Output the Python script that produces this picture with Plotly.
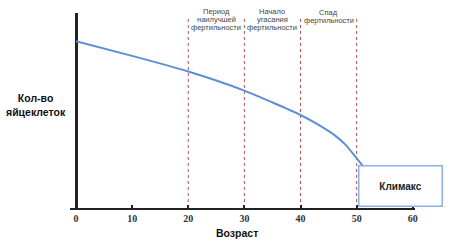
import plotly.graph_objects as go

# ---- data ----
ages = [0, 10, 20, 30, 40, 43, 46, 48, 50, 52]
eggs = [85.5, 78, 70, 60.2, 47.7, 43.0, 37.5, 32.5, 25.5, 18.5]
x_ticks = [0, 10, 20, 30, 40, 50, 60]
period_bounds = [20, 30, 40, 50]
period_labels = [["Период", "наилучшей", "фертильности"],
                 ["Начало", "угасания", "фертильности"],
                 ["Спад", "фертильности"]]
period_label_top_px = [11, 11, 12.5]
y_title = "Кол-во<br>яйцеклеток"
x_title = "Возраст"
box_text = "Климакс"

PLOT_TOP, PLOT_H = 13, 195

fig = go.Figure()
fig.add_trace(go.Scatter(x=ages, y=eggs, mode="lines",
                         line=dict(color="#5b8fd6", width=2, shape="spline", smoothing=0.6),
                         hoverinfo="skip", showlegend=False))

for b in period_bounds:
    fig.add_shape(type="line", xref="x", yref="paper", x0=b, x1=b, y0=0, y1=0.975,
                  line=dict(color="#b85450", width=1, dash="dot"), layer="below")

for i, lines in enumerate(period_labels):
    for j, ln in enumerate(lines):
        py = period_label_top_px[i] + 8.2 * j
        fig.add_annotation(x=(period_bounds[i] + period_bounds[i + 1]) / 2, xref="x",
                           xanchor="center",
                           y=(PLOT_TOP + PLOT_H - py) / PLOT_H, yref="paper", yanchor="middle",
                           showarrow=False, text=ln,
                           font=dict(family="Liberation Sans, Arial", size=7.5, color="#444"))

fig.add_annotation(x=-0.098, xref="paper", xanchor="center", y=0.53, yref="paper",
                   yanchor="middle", showarrow=False,
                   text="<b>" + y_title + "</b>", align="center",
                   font=dict(family="Liberation Sans, Arial", size=10.5, color="#111"))
fig.add_annotation(x=0.483, xref="paper", xanchor="center", y=-0.13, yref="paper",
                   yanchor="middle", showarrow=False,
                   text="<b>" + x_title + "</b>",
                   font=dict(family="Liberation Sans, Arial", size=10.5, color="#111"))

fig.add_annotation(x=57.75, xref="x", xanchor="center", y=11.1, yref="y", yanchor="middle",
                   showarrow=False,
                   text="<b>" + box_text + "</b>", width=80, height=37,
                   bgcolor="white", bordercolor="#8db0e0", borderwidth=1.5, borderpad=1,
                   font=dict(family="Liberation Sans, Arial", size=10, color="#222"))

fig.update_layout(
    width=450, height=248,
    margin=dict(l=70, r=35, t=13, b=40),
    paper_bgcolor="white", plot_bgcolor="white",
    xaxis=dict(range=[-1.07, 60.4], tickvals=x_ticks, ticktext=[str(t) for t in x_ticks],
               showgrid=False, showline=True, linecolor="#222", linewidth=2,
               ticks="inside", ticklen=3, tickwidth=1.5, tickcolor="#222",
               zeroline=True, zerolinecolor="#222", zerolinewidth=3,
               tickfont=dict(family="Liberation Serif, serif", size=10, color="#333",
                             weight="bold"),
               fixedrange=True),
    yaxis=dict(range=[0, 100], showgrid=False, showticklabels=False, zeroline=False,
               showline=False, ticks="", fixedrange=True),
)

fig.write_html("out.html")
